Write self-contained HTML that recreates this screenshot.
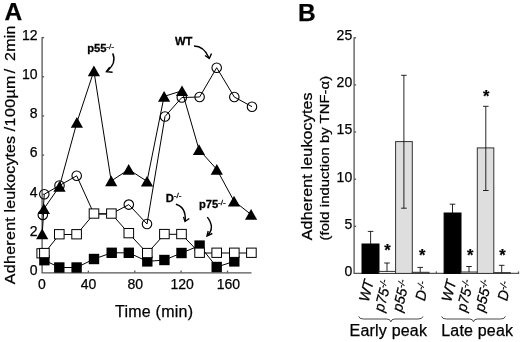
<!DOCTYPE html><html><head><meta charset="utf-8"><title>Figure</title>
<style>html,body{margin:0;padding:0;background:#fff}svg{display:block}text{font-family:"Liberation Sans",Arial,sans-serif;fill:#000;stroke:#000;stroke-width:.25px}</style></head><body>
<svg width="520" height="342" viewBox="0 0 520 342">
<rect width="520" height="342" fill="#fff"/>
<text x="4.5" y="20" font-size="24.5" font-weight="bold">A</text>
<g stroke="#555" stroke-width="1.3" fill="none">
<path d="M42.1 37.08000000000001 V272.90000000000003 H251.5"/>
<path d="M42.1 233.4 h2"/>
<path d="M42.1 194.3 h2"/>
<path d="M42.1 155.1 h2"/>
<path d="M42.1 115.9 h2"/>
<path d="M42.1 76.8 h2"/>
<path d="M42.1 37.6 h2"/>
<path d="M88.4 272.6 v-2"/>
<path d="M134.8 272.6 v-2"/>
<path d="M181.1 272.6 v-2"/>
<path d="M227.5 272.6 v-2"/>
</g>
<text x="37.6" y="274.8" font-size="14" text-anchor="end">0</text>
<text x="37.6" y="235.6" font-size="14" text-anchor="end">2</text>
<text x="37.6" y="196.5" font-size="14" text-anchor="end">4</text>
<text x="37.6" y="157.3" font-size="14" text-anchor="end">6</text>
<text x="37.6" y="118.1" font-size="14" text-anchor="end">8</text>
<text x="37.6" y="79.0" font-size="14" text-anchor="end">10</text>
<text x="37.6" y="39.8" font-size="14" text-anchor="end">12</text>
<text x="42.0" y="289.2" font-size="14" text-anchor="middle">0</text>
<text x="88.5" y="289.2" font-size="14" text-anchor="middle">40</text>
<text x="135.3" y="289.2" font-size="14" text-anchor="middle">80</text>
<text x="182.1" y="289.2" font-size="14" text-anchor="middle">120</text>
<text x="228.4" y="289.2" font-size="14" text-anchor="middle">160</text>
<text x="115" y="317" font-size="16" textLength="78" lengthAdjust="spacing">Time (min)</text>
<text transform="translate(15.3,284.2) rotate(-90) scale(1.067,1)" font-size="15" textLength="62.8" lengthAdjust="spacing">Adherent</text>
<text transform="translate(15.3,212.5) rotate(-90) scale(1.067,1)" font-size="15" textLength="71.8" lengthAdjust="spacing">leukocytes</text>
<text transform="translate(15.3,131.2) rotate(-90) scale(1.067,1)" font-size="15" textLength="52.1" lengthAdjust="spacing">/100µm</text>
<text transform="translate(15.3,73.2) rotate(-90) scale(1.067,1)" font-size="15">/</text>
<text transform="translate(15.3,61) rotate(-90) scale(1.067,1)" font-size="15" textLength="33.2" lengthAdjust="spacing">2min</text>
<polyline points="44.4,260.2 59.3,267.5 76.6,267.5 94.0,259.0 111.7,252.8 128.8,252.8 147.3,261.4 164.4,260.0 181.5,253.0 199.6,245.6 216.7,267.0 234.3,261.4" fill="none" stroke="#000" stroke-width="1.0"/>
<polyline points="42.8,214.9 44.3,194.2 59.5,185.5 76.7,175.8 94.0,214.0 111.0,214.0 128.8,204.6 147.0,224.0 165.0,116.5 181.8,97.5 199.6,97.0 216.7,67.7 234.3,97.0 252.0,106.7" fill="none" stroke="#000" stroke-width="1.0"/>
<polyline points="44.4,253.3 59.3,234.5 76.6,234.5 94.0,213.8 111.4,213.8 128.8,233.4 147.3,253.3 164.4,234.3 181.5,234.3 199.6,253.0 216.7,253.0 234.3,253.0 251.4,253.0" fill="none" stroke="#000" stroke-width="1.0"/>
<polyline points="42.2,234.0 43.9,208.8 59.5,186.4 76.9,122.4 93.9,70.9 111.2,181.0 128.7,169.5 147.0,181.3 164.1,96.4 182.0,90.8 199.0,149.6 216.8,169.4 234.0,201.1 251.1,214.5" fill="none" stroke="#000" stroke-width="1.0"/>
<rect x="39.2" y="255.0" width="10.4" height="10.4" fill="#000"/>
<rect x="54.1" y="262.3" width="10.4" height="10.4" fill="#000"/>
<rect x="71.4" y="262.3" width="10.4" height="10.4" fill="#000"/>
<rect x="88.8" y="253.8" width="10.4" height="10.4" fill="#000"/>
<rect x="106.5" y="247.6" width="10.4" height="10.4" fill="#000"/>
<rect x="123.6" y="247.6" width="10.4" height="10.4" fill="#000"/>
<rect x="142.1" y="256.2" width="10.4" height="10.4" fill="#000"/>
<rect x="159.2" y="254.8" width="10.4" height="10.4" fill="#000"/>
<rect x="176.3" y="247.8" width="10.4" height="10.4" fill="#000"/>
<rect x="194.4" y="240.4" width="10.4" height="10.4" fill="#000"/>
<rect x="211.5" y="261.8" width="10.4" height="10.4" fill="#000"/>
<rect x="229.1" y="256.2" width="10.4" height="10.4" fill="#000"/>
<rect x="36.9" y="248.7" width="9.6" height="9.2" fill="#fff" stroke="#000" stroke-width="1"/>
<rect x="39.6" y="248.4" width="9.6" height="9.3" fill="#fff" stroke="#000" stroke-width="1"/>
<rect x="54.5" y="229.6" width="9.6" height="9.3" fill="#fff" stroke="#000" stroke-width="1"/>
<rect x="71.8" y="229.6" width="9.6" height="9.3" fill="#fff" stroke="#000" stroke-width="1"/>
<rect x="89.2" y="208.9" width="9.6" height="9.3" fill="#fff" stroke="#000" stroke-width="1"/>
<rect x="106.6" y="208.9" width="9.6" height="9.3" fill="#fff" stroke="#000" stroke-width="1"/>
<rect x="124.0" y="228.5" width="9.6" height="9.3" fill="#fff" stroke="#000" stroke-width="1"/>
<rect x="142.5" y="248.4" width="9.6" height="9.3" fill="#fff" stroke="#000" stroke-width="1"/>
<rect x="159.6" y="229.4" width="9.6" height="9.3" fill="#fff" stroke="#000" stroke-width="1"/>
<rect x="176.7" y="229.4" width="9.6" height="9.3" fill="#fff" stroke="#000" stroke-width="1"/>
<rect x="194.8" y="248.1" width="9.6" height="9.3" fill="#fff" stroke="#000" stroke-width="1"/>
<rect x="211.9" y="248.1" width="9.6" height="9.3" fill="#fff" stroke="#000" stroke-width="1"/>
<rect x="229.5" y="248.1" width="9.6" height="9.3" fill="#fff" stroke="#000" stroke-width="1"/>
<rect x="246.6" y="248.1" width="9.6" height="9.3" fill="#fff" stroke="#000" stroke-width="1"/>
<path d="M42.2 228.6 L48.3 239.3 H36.1 Z" fill="#000"/>
<path d="M43.9 203.4 L50.0 214.1 H37.8 Z" fill="#000"/>
<path d="M59.5 181.0 L65.6 191.7 H53.4 Z" fill="#000"/>
<path d="M76.9 117.0 L83.0 127.7 H70.8 Z" fill="#000"/>
<path d="M93.9 65.5 L100.0 76.2 H87.8 Z" fill="#000"/>
<path d="M111.2 175.6 L117.3 186.3 H105.1 Z" fill="#000"/>
<path d="M128.7 164.1 L134.8 174.8 H122.6 Z" fill="#000"/>
<path d="M147.0 175.9 L153.1 186.6 H140.9 Z" fill="#000"/>
<path d="M164.1 91.0 L170.2 101.7 H158.0 Z" fill="#000"/>
<path d="M182.0 85.4 L188.1 96.1 H175.9 Z" fill="#000"/>
<path d="M199.0 144.2 L205.1 154.9 H192.9 Z" fill="#000"/>
<path d="M216.8 164.0 L222.9 174.7 H210.7 Z" fill="#000"/>
<path d="M234.0 195.7 L240.1 206.4 H227.9 Z" fill="#000"/>
<path d="M251.1 209.1 L257.2 219.8 H245.0 Z" fill="#000"/>
<circle cx="42.8" cy="214.9" r="4.75" fill="none" stroke="#000" stroke-width="1.1"/>
<circle cx="44.3" cy="194.2" r="4.75" fill="none" stroke="#000" stroke-width="1.1"/>
<circle cx="59.5" cy="185.5" r="4.75" fill="none" stroke="#000" stroke-width="1.1"/>
<circle cx="76.7" cy="175.8" r="4.75" fill="none" stroke="#000" stroke-width="1.1"/>
<circle cx="128.8" cy="204.6" r="4.75" fill="none" stroke="#000" stroke-width="1.1"/>
<circle cx="147.0" cy="224.0" r="4.75" fill="none" stroke="#000" stroke-width="1.1"/>
<circle cx="165.0" cy="116.5" r="4.75" fill="none" stroke="#000" stroke-width="1.1"/>
<circle cx="181.8" cy="97.5" r="4.75" fill="none" stroke="#000" stroke-width="1.1"/>
<circle cx="199.6" cy="97.0" r="4.75" fill="none" stroke="#000" stroke-width="1.1"/>
<circle cx="216.7" cy="67.7" r="4.75" fill="none" stroke="#000" stroke-width="1.1"/>
<circle cx="234.3" cy="97.0" r="4.75" fill="none" stroke="#000" stroke-width="1.1"/>
<circle cx="252.0" cy="106.7" r="4.75" fill="none" stroke="#000" stroke-width="1.1"/>
<text transform="translate(87.2,52.2) scale(1.08,1)" font-size="10.4" font-weight="bold">p55<tspan font-size="7.6" font-weight="normal" stroke="#000" stroke-width="0.25" dx="-0.2" dy="-3.6">-/-</tspan></text>
<text transform="translate(175,45) scale(1.08,1)" font-size="10.4" font-weight="bold">WT</text>
<text transform="translate(165.8,201.7) scale(1.08,1)" font-size="10.4" font-weight="bold">D<tspan font-size="7.6" font-weight="normal" stroke="#000" stroke-width="0.25" dx="-0.2" dy="-3.6">-/-</tspan></text>
<text transform="translate(199,208.3) scale(1.08,1)" font-size="10.4" font-weight="bold">p75<tspan font-size="7.6" font-weight="normal" stroke="#000" stroke-width="0.25" dx="-0.2" dy="-3.6">-/-</tspan></text>
<g fill="none" stroke="#000" stroke-width="1.4">
<path d="M112.7 53.4 Q117 63 106.8 71.4"/><path d="M109.7 67.2 L106.4 71.6 L112.6 72.3"/>
<path d="M194 46 Q204 46 209 58"/><path d="M205 55.5 L209.3 58.5 L211.5 53.5"/>
<path d="M175.9 204.3 Q186 207 185.3 221"/><path d="M183.5 216.9 L185 221.5 L189.3 218.5"/>
<path d="M207.3 217.2 Q215.5 228 207.3 235.5"/><path d="M208.2 231 L207 236 L212.3 233.5"/>
</g>
<text x="298" y="21.2" font-size="24.5" font-weight="bold">B</text>
<g stroke="#555" stroke-width="1.3" fill="none">
<path d="M354.1 37.3 V273.4 H518.5 v-2"/>
<path d="M436.4 273.4 v-2"/>
<path d="M354.1 226.3 h2"/>
<path d="M354.1 179.2 h2"/>
<path d="M354.1 132.0 h2"/>
<path d="M354.1 84.9 h2"/>
<path d="M354.1 37.8 h2"/>
</g>
<text x="352.2" y="275.8" font-size="14" text-anchor="end">0</text>
<text x="352.2" y="228.7" font-size="14" text-anchor="end">5</text>
<text x="352.2" y="181.6" font-size="14" text-anchor="end">10</text>
<text x="352.2" y="134.4" font-size="14" text-anchor="end">15</text>
<text x="352.2" y="87.3" font-size="14" text-anchor="end">20</text>
<text x="352.2" y="40.2" font-size="14" text-anchor="end">25</text>
<text transform="translate(311.8,240.2) rotate(-90) scale(1.067,1)" font-size="15" textLength="138.5" lengthAdjust="spacing">Adherent leukocytes</text>
<text transform="translate(328.5,240.5) rotate(-90) scale(1.12,1)" font-size="13.2" textLength="147.0" lengthAdjust="spacing">(fold induction by TNF-α)</text>
<rect x="362" y="244" width="17.0" height="29.4" fill="#000" stroke="#000" stroke-width="1"/>
<path d="M370.6 244 V231.4 M367.8 231.4 h5.6" stroke="#000" stroke-width="0.85" fill="none"/>
<rect x="379" y="271.4" width="16.6" height="2.0" fill="#fff" stroke="#333" stroke-width="1"/>
<path d="M387 271.4 V263 M384.2 263 h5.6" stroke="#000" stroke-width="0.85" fill="none"/>
<rect x="395.6" y="141.6" width="16.7" height="131.8" fill="#dedede" stroke="#333" stroke-width="1"/>
<path d="M403.9 208.2 V75.3 M401.09999999999997 75.3 h5.6" stroke="#000" stroke-width="0.85" fill="none"/>
<path d="M401.09999999999997 208.2 h5.6" stroke="#000" stroke-width="0.85" fill="none"/>
<rect x="412.3" y="272.3" width="16.7" height="1.1" fill="#fff" stroke="#333" stroke-width="1"/>
<path d="M420.2 272.3 V267.4 M417.4 267.4 h5.6" stroke="#000" stroke-width="0.85" fill="none"/>
<rect x="444.1" y="213" width="16.9" height="60.4" fill="#000" stroke="#000" stroke-width="1"/>
<path d="M452.5 213 V204.2 M449.7 204.2 h5.6" stroke="#000" stroke-width="0.85" fill="none"/>
<rect x="461" y="272" width="16.3" height="1.4" fill="#fff" stroke="#333" stroke-width="1"/>
<path d="M469 272 V266.5 M466.2 266.5 h5.6" stroke="#000" stroke-width="0.85" fill="none"/>
<rect x="477.3" y="147.9" width="16.5" height="125.5" fill="#dedede" stroke="#333" stroke-width="1"/>
<path d="M485.8 190.5 V106.3 M483.0 106.3 h5.6" stroke="#000" stroke-width="0.85" fill="none"/>
<path d="M483.0 190.5 h5.6" stroke="#000" stroke-width="0.85" fill="none"/>
<rect x="493.8" y="272.6" width="16.5" height="0.8" fill="#fff" stroke="#333" stroke-width="1"/>
<path d="M501.7 272.6 V265.3 M498.9 265.3 h5.6" stroke="#000" stroke-width="0.85" fill="none"/>
<text x="387.4" y="256.2" font-size="16.5" font-weight="bold" text-anchor="middle">*</text>
<text x="422.3" y="261.0" font-size="16.5" font-weight="bold" text-anchor="middle">*</text>
<text x="470.3" y="260.5" font-size="16.5" font-weight="bold" text-anchor="middle">*</text>
<text x="502.5" y="261.3" font-size="16.5" font-weight="bold" text-anchor="middle">*</text>
<text x="486.1" y="102.0" font-size="16.5" font-weight="bold" text-anchor="middle">*</text>
<text transform="translate(368.6,302.6) rotate(-76) scale(1.01,1.04)" font-size="14" font-style="italic">WT</text>
<text transform="translate(383.6,312.4) rotate(-76) scale(1.01,1.04)" font-size="14" font-style="italic">p75<tspan font-size="9" dy="-4">-/-</tspan></text>
<text transform="translate(401.8,312.4) rotate(-76) scale(1.01,1.04)" font-size="14" font-style="italic">p55<tspan font-size="9" dy="-4">-/-</tspan></text>
<text transform="translate(424.7,301.4) rotate(-76) scale(1.01,1.04)" font-size="14" font-style="italic">D<tspan font-size="9" dy="-4">-/-</tspan></text>
<text transform="translate(450.90000000000003,302.6) rotate(-76) scale(1.01,1.04)" font-size="14" font-style="italic">WT</text>
<text transform="translate(465.90000000000003,312.4) rotate(-76) scale(1.01,1.04)" font-size="14" font-style="italic">p75<tspan font-size="9" dy="-4">-/-</tspan></text>
<text transform="translate(484.1,312.4) rotate(-76) scale(1.01,1.04)" font-size="14" font-style="italic">p55<tspan font-size="9" dy="-4">-/-</tspan></text>
<text transform="translate(507.0,301.4) rotate(-76) scale(1.01,1.04)" font-size="14" font-style="italic">D<tspan font-size="9" dy="-4">-/-</tspan></text>
<path d="M358.7 316.4 q0.5 2.6 5 2.6 H386.85 q3.5 0 4 2.8 q0.5 -2.8 4 -2.8 H418 q4.5 0 5 -2.6" fill="none" stroke="#333" stroke-width="0.9"/>
<path d="M441.6 316.4 q0.5 2.6 5 2.6 H469.5 q3.5 0 4 2.8 q0.5 -2.8 4 -2.8 H500.4 q4.5 0 5 -2.6" fill="none" stroke="#333" stroke-width="0.9"/>
<text x="349.6" y="336.4" font-size="16" textLength="77.3" lengthAdjust="spacing">Early peak</text>
<text x="441.2" y="336.4" font-size="16" textLength="71.8" lengthAdjust="spacing">Late peak</text>
</svg></body></html>
